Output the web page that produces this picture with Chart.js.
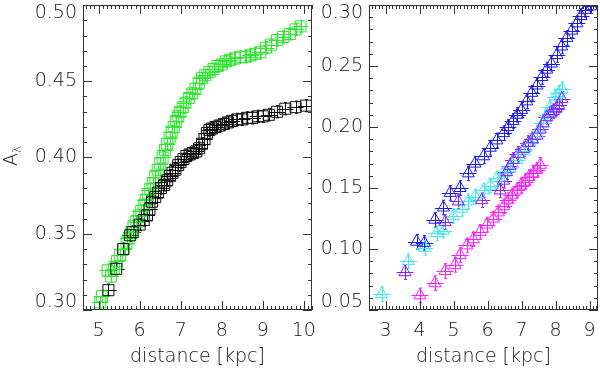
<!DOCTYPE html>
<html lang="en">
<head>
<meta charset="UTF-8">
<title>Extinction vs distance</title>
<script src="https://cdn.jsdelivr.net/npm/chart.js"></script>
<style>
  body { margin: 0; background: #fff; }
  .wrap { position: relative; width: 600px; height: 370px; }
  canvas { position: absolute; top: 0; }
  #leftChart { left: 0; }
  #rightChart { left: 320px; }
</style>
</head>
<body>
<div class="wrap">
  <canvas id="leftChart" width="320" height="370"></canvas>
  <canvas id="rightChart" width="280" height="370"></canvas>
</div>
<script>
// left panel: squares
const greenX = [5.04, 5.08, 5.22, 5.30, 5.37, 5.45, 5.52, 5.61, 5.68, 5.73, 5.80, 5.85, 5.92, 5.98, 6.04, 6.10,
  6.15, 6.20, 6.26, 6.32, 6.38, 6.44, 6.50, 6.56, 6.62, 6.67, 6.73, 6.78, 6.83, 6.89, 6.94, 6.99, 7.05, 7.12,
  7.20, 7.28, 7.36, 7.44, 7.52, 7.60, 7.70, 7.80, 7.90, 8.00, 8.10, 8.20, 8.32, 8.45, 8.58, 8.70, 8.82, 8.94,
  9.08, 9.20, 9.35, 9.50, 9.66, 9.80, 9.92];
const greenY = [0.305, 0.309, 0.326, 0.322, 0.327, 0.332, 0.336, 0.340, 0.344, 0.347, 0.351, 0.355, 0.358, 0.362,
  0.365, 0.369, 0.372, 0.376, 0.379, 0.383, 0.387, 0.392, 0.396, 0.400, 0.405, 0.409, 0.413, 0.417, 0.420, 0.424,
  0.427, 0.430, 0.433, 0.436, 0.439, 0.442, 0.445, 0.449, 0.452, 0.454, 0.456, 0.458, 0.460, 0.461, 0.463, 0.464,
  0.465, 0.466, 0.466, 0.467, 0.468, 0.469, 0.472, 0.474, 0.477, 0.479, 0.481, 0.484, 0.486];

const blackX = [5.24, 5.43, 5.60, 5.77, 5.83, 6.00, 6.10, 6.18, 6.24, 6.30, 6.38, 6.45, 6.52, 6.60, 6.67, 6.74,
  6.80, 6.87, 6.94, 7.00, 7.07, 7.14, 7.22, 7.30, 7.38, 7.45, 7.52, 7.58, 7.64, 7.70, 7.76, 7.85, 7.95, 8.05,
  8.15, 8.25, 8.38, 8.50, 8.62, 8.75, 8.88, 9.00, 9.15, 9.35, 9.55, 9.80, 10.05];
const blackY = [0.313, 0.327, 0.340, 0.349, 0.351, 0.356, 0.359, 0.362, 0.366, 0.371, 0.374, 0.377, 0.380, 0.382,
  0.385, 0.388, 0.390, 0.392, 0.395, 0.397, 0.399, 0.401, 0.402, 0.403, 0.404, 0.406, 0.409, 0.412, 0.416, 0.418,
  0.419, 0.420, 0.421, 0.422, 0.423, 0.424, 0.425, 0.425, 0.426, 0.426, 0.427, 0.427, 0.428, 0.430, 0.432, 0.433,
  0.434];

// right panel: triangles
const blueX = [3.91, 4.14, 4.45, 4.70, 4.90, 5.19, 5.43, 5.63, 5.88, 6.08, 6.27, 6.47, 6.60, 6.75, 6.88, 7.00,
  7.15, 7.30, 7.45, 7.60, 7.74, 7.88, 8.04, 8.18, 8.33, 8.48, 8.63, 8.75, 8.87, 9.05];
const blueY = [0.106, 0.105, 0.124, 0.134, 0.146, 0.150, 0.162, 0.170, 0.176, 0.183, 0.189, 0.195, 0.200, 0.205,
  0.210, 0.214, 0.221, 0.228, 0.234, 0.241, 0.247, 0.252, 0.259, 0.266, 0.273, 0.279, 0.285, 0.291, 0.296, 0.299];

const cyanX = [2.88, 3.67, 4.15, 4.50, 4.70, 4.99, 5.24, 5.43, 5.63, 5.88, 6.08, 6.27, 6.47, 6.66, 6.86, 7.06,
  7.25, 7.45, 7.62, 7.75, 7.84, 7.99, 8.10, 8.19];
const cyanY = [0.063, 0.090, 0.101, 0.113, 0.115, 0.127, 0.133, 0.139, 0.143, 0.148, 0.152, 0.158, 0.162, 0.166,
  0.173, 0.180, 0.187, 0.195, 0.203, 0.210, 0.216, 0.225, 0.228, 0.231];

const purpleX = [3.57, 4.75, 5.14, 5.83, 6.37, 6.47, 6.56, 6.66, 6.76, 6.90, 7.06, 7.20, 7.32, 7.45, 7.55, 7.64,
  7.74, 7.85, 7.94, 8.02, 8.09, 8.19];
const purpleY = [0.081, 0.122, 0.139, 0.140, 0.148, 0.156, 0.163, 0.168, 0.173, 0.178, 0.182, 0.187, 0.190, 0.193,
  0.198, 0.203, 0.208, 0.211, 0.213, 0.215, 0.218, 0.223];

const magentaX = [3.32, 4.01, 4.45, 4.75, 5.04, 5.19, 5.39, 5.58, 5.78, 5.98, 6.17, 6.32, 6.47, 6.60, 6.72, 6.86,
  6.98, 7.10, 7.22, 7.34, 7.45, 7.55];
const magentaY = [0.043, 0.062, 0.072, 0.082, 0.087, 0.095, 0.103, 0.108, 0.114, 0.120, 0.125, 0.130, 0.135, 0.140,
  0.144, 0.148, 0.152, 0.155, 0.159, 0.162, 0.165, 0.169];

const leftXTicks = [5, 6, 7, 8, 9, 10];
const rightXTicks = [3, 4, 5, 6, 7, 8, 9];

const FONT = "'DejaVu Sans', sans-serif";
const TEXT = '#161616';

const pts = (xs, ys) => xs.map((x, i) => ({ x: x, y: ys[i] }));

// error bars, frame and inward ticks the IDL way
const idlFrame = {
  id: 'idlFrame',
  beforeDatasetsDraw(chart) {
    const { ctx, chartArea: a, scales: { x, y } } = chart;
    ctx.save();
    ctx.beginPath();
    ctx.rect(a.left, a.top, a.right - a.left, a.bottom - a.top);
    ctx.clip();
    ctx.lineWidth = 1;
    chart.data.datasets.forEach(ds => {
      ctx.strokeStyle = ds.pointBorderColor;
      ctx.beginPath();
      ds.data.forEach(p => {
        const px = Math.round(x.getPixelForValue(p.x)) + 0.5;
        const py = Math.round(y.getPixelForValue(p.y)) + 0.5;
        const y0 = y.getPixelForValue(p.y - ds.errY), y1 = y.getPixelForValue(p.y + ds.errY);
        ctx.moveTo(x.getPixelForValue(p.x - ds.errX), py);
        ctx.lineTo(x.getPixelForValue(p.x + ds.errX), py);
        ctx.moveTo(px, y0); ctx.lineTo(px, y1);
        ctx.moveTo(px - 1.5, y0); ctx.lineTo(px + 1.5, y0);
        ctx.moveTo(px - 1.5, y1); ctx.lineTo(px + 1.5, y1);
      });
      ctx.stroke();
    });
    ctx.restore();
  },
  afterDraw(chart, args, o) {
    const { ctx, chartArea: a, scales: { x, y } } = chart;
    ctx.save();
    ctx.strokeStyle = '#333';
    ctx.lineWidth = 1;
    ctx.strokeRect(Math.round(a.left) + 0.5, Math.round(a.top) + 0.5,
      Math.round(a.right - a.left) - 1, Math.round(a.bottom - a.top) - 1);
    ctx.beginPath();
    for (let k = Math.ceil(x.min * o.xDiv); k <= Math.floor(x.max * o.xDiv); k++) {
      const px = Math.round(x.getPixelForValue(k / o.xDiv)) + 0.5;
      const len = k % o.xMajor === 0 ? 9 : 4;
      ctx.moveTo(px, a.bottom); ctx.lineTo(px, a.bottom - len);
      ctx.moveTo(px, a.top); ctx.lineTo(px, a.top + len);
    }
    for (let k = Math.ceil(y.min * o.yDiv - 1e-6); k <= Math.floor(y.max * o.yDiv + 1e-6); k++) {
      const py = Math.round(y.getPixelForValue(k / o.yDiv)) + 0.5;
      const len = k % o.yMajor === 0 ? 9 : 4;
      ctx.moveTo(a.left, py); ctx.lineTo(a.left + len, py);
      ctx.moveTo(a.right, py); ctx.lineTo(a.right - len, py);
    }
    ctx.stroke();
    if (o.yLabel) {
      ctx.translate(17, 166);
      ctx.rotate(-Math.PI / 2);
      ctx.fillStyle = TEXT;
      ctx.textBaseline = 'alphabetic';
      ctx.font = '200 19px ' + FONT;
      ctx.fillText('A', 0, 0);
      const w = ctx.measureText('A').width;
      ctx.font = '200 12px ' + FONT;
      ctx.fillText('λ', w, 4);
    }
    ctx.restore();
  }
};

// push first/last y label inside the frame
function edgeLabels(v, i, t) {
  const s = v.toFixed(2);
  if (i === 0) return [s, ''];
  if (i === t.length - 1) return ['', s];
  return s;
}

function series(xs, ys, color, style, r, ex, ey) {
  return {
    data: pts(xs, ys),
    pointStyle: style,
    pointRadius: r,
    pointHoverRadius: r,
    pointBorderColor: color,
    pointBackgroundColor: 'rgba(0,0,0,0)',
    pointBorderWidth: 1,
    showLine: false,
    clip: 0,
    errX: ex,
    errY: ey
  };
}

function makeChart(id, datasets, xr, yr, xTicks, yWidth, padRight, frameOpts) {
  return new Chart(document.getElementById(id), {
    type: 'scatter',
    data: { datasets: datasets },
    options: {
      responsive: false,
      animation: false,
      events: [],
      layout: { padding: { top: 5, right: padRight, bottom: 0, left: 0 }, autoPadding: false },
      plugins: { legend: { display: false }, tooltip: { enabled: false }, idlFrame: frameOpts },
      scales: {
        x: {
          type: 'linear', min: xr[0], max: xr[1],
          afterBuildTicks: s => { s.ticks = xTicks.map(v => ({ value: v })); },
          afterFit: s => { s.height = 60; s.paddingLeft = 0; s.paddingRight = 0; },
          grid: { display: false, drawTicks: false },
          border: { display: false },
          ticks: {
            font: { family: FONT, size: 19, weight: 200 }, color: TEXT,
            padding: 10, maxRotation: 0, autoSkip: false
          },
          title: {
            display: true, text: 'distance [kpc]', color: TEXT,
            font: { family: FONT, size: 19, weight: 200 }, padding: { top: 0, bottom: 2 }
          }
        },
        y: {
          type: 'linear', min: yr[0], max: yr[1],
          afterFit: s => { s.width = yWidth; s.paddingTop = 0; s.paddingBottom = 0; },
          grid: { display: false, drawTicks: false },
          border: { display: false },
          ticks: {
            stepSize: 0.05, callback: edgeLabels, padding: 6,
            font: { family: FONT, size: 19, weight: 200, lineHeight: '16px' }, color: TEXT
          }
        }
      }
    },
    plugins: [idlFrame]
  });
}

makeChart('leftChart', [
  series(blackX, blackY, '#101010', 'rect', 7.8, 0.2, 0.004),
  series(greenX, greenY, '#2fe62f', 'rect', 7.8, 0.2, 0.004)
], [4.62, 10.2], [0.30, 0.50], leftXTicks, 83, 8,
  { xDiv: 10, xMajor: 10, yDiv: 100, yMajor: 5, yLabel: true });

makeChart('rightChart', [
  series(blueX, blueY, '#1c1cf0', 'triangle', 7, 0.25, 0.006),
  series(purpleX, purpleY, '#8a20ff', 'triangle', 7, 0.25, 0.006),
  series(cyanX, cyanY, '#40e6f0', 'triangle', 7, 0.25, 0.006),
  series(magentaX, magentaY, '#ff20ff', 'triangle', 7, 0.25, 0.006)
], [2.51, 9.25], [0.05, 0.30], rightXTicks, 49, 2,
  { xDiv: 10, xMajor: 10, yDiv: 100, yMajor: 5, yLabel: false });
</script>
</body>
</html>
